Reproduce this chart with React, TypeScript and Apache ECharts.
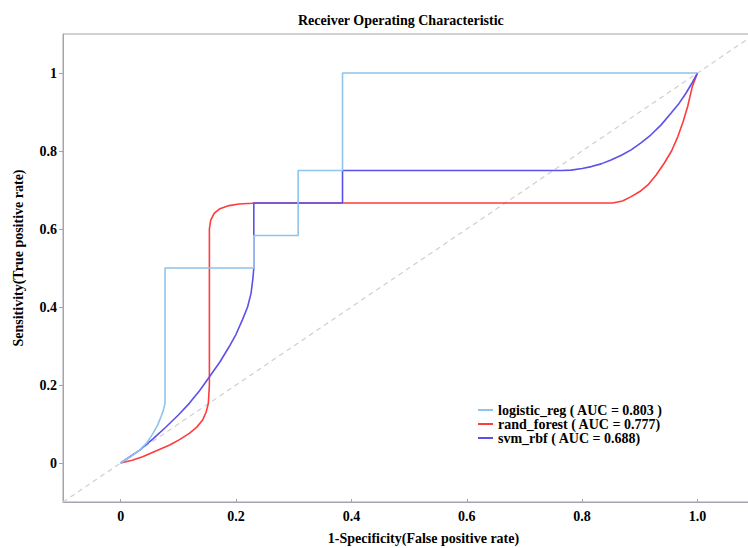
import React, { useEffect, useRef } from "react";
import * as echarts from "echarts";

const TITLE = "Receiver Operating Characteristic";
const X_NAME = "1-Specificity(False positive rate)";
const Y_NAME = "Sensitivity(True positive rate)";
const TICKS = [0, 0.2, 0.4, 0.6, 0.8, 1.0];

const SERIES_NAMES = [
  "logistic_reg ( AUC = 0.803 )",
  "rand_forest ( AUC = 0.777)",
  "svm_rbf ( AUC = 0.688)",
];

const logisticReg: number[][] = [
  [0, 0], [0.015, 0.014], [0.033, 0.033], [0.046, 0.053], [0.056, 0.076],
  [0.064, 0.097], [0.07, 0.119], [0.074, 0.135], [0.0769, 0.153],
  [0.0769, 0.5], [0.2308, 0.5], [0.2308, 0.5833], [0.3077, 0.5833],
  [0.3077, 0.75], [0.3846, 0.75], [0.3846, 1], [1, 1],
];

const randForest: number[][] = [
  [0, 0], [0.02, 0.007], [0.038, 0.016], [0.06, 0.03], [0.085, 0.046],
  [0.102, 0.06], [0.119, 0.076], [0.132, 0.092], [0.142, 0.11],
  [0.148, 0.13], [0.152, 0.153], [0.1538, 0.2], [0.1538, 0.6],
  [0.156, 0.622], [0.162, 0.64], [0.172, 0.652], [0.188, 0.66],
  [0.205, 0.664], [0.228, 0.666], [0.2308, 0.6667], [0.853, 0.6667],
  [0.87, 0.672], [0.885, 0.683], [0.9, 0.696], [0.914, 0.713],
  [0.928, 0.738], [0.942, 0.768], [0.955, 0.8], [0.966, 0.837],
  [0.975, 0.875], [0.983, 0.914], [0.991, 0.965], [1, 1],
];

const svmRbf: number[][] = [
  [0, 0], [0.033, 0.033], [0.056, 0.062], [0.079, 0.093], [0.1, 0.123],
  [0.119, 0.153], [0.137, 0.186], [0.154, 0.221], [0.172, 0.259],
  [0.188, 0.298], [0.2, 0.33], [0.211, 0.367], [0.22, 0.4],
  [0.226, 0.435], [0.229, 0.47], [0.2308, 0.5], [0.2308, 0.6667],
  [0.3846, 0.6667], [0.3846, 0.75], [0.765, 0.75], [0.781, 0.751],
  [0.8, 0.755], [0.816, 0.76], [0.833, 0.767], [0.85, 0.777],
  [0.868, 0.789], [0.885, 0.803], [0.902, 0.821], [0.919, 0.841],
  [0.937, 0.867], [0.954, 0.897], [0.968, 0.922], [0.98, 0.948],
  [0.99, 0.973], [1, 1],
];

const diagonal: number[][] = [
  [-0.1, -0.1],
  [1.15, 1.15],
];

const COLORS = {
  logistic: "#8fc4ec",
  forest: "#ff3b3b",
  svm: "#5b50ec",
  diag: "#cfcfcf",
  axis: "#a4a4ac",
};

const FONT = "'Liberation Serif', 'Times New Roman', serif";

export default function App() {
  const ref = useRef<HTMLDivElement>(null);

  useEffect(() => {
    document.body.style.margin = "0";
    if (!ref.current) return;
    const chart = echarts.init(ref.current, null, { renderer: "svg" });

    const lineSeries = (name: string, data: number[][], color: string, z: number) => ({
      name,
      type: "line",
      data,
      symbol: "none",
      showSymbol: false,
      smooth: false,
      z,
      lineStyle: { color, width: 1.6 },
      itemStyle: { color },
    });

    chart.setOption({
      animation: false,
      backgroundColor: "#ffffff",
      title: {
        text: TITLE,
        left: 293,
        top: 8,
        textStyle: { fontFamily: FONT, fontWeight: "bold", fontSize: 14, color: "#000" },
      },
      legend: {
        data: SERIES_NAMES,
        orient: "vertical",
        left: 473,
        top: 398,
        icon: "rect",
        itemWidth: 15,
        itemHeight: 2,
        itemGap: 0,
        textStyle: { fontFamily: FONT, fontWeight: "bold", fontSize: 14, color: "#000" },
      },
      grid: {
        left: 63,
        top: 34,
        width: 721,
        height: 468,
        containLabel: false,
        outerBoundsMode: "none",
        show: true,
        borderColor: COLORS.axis,
        borderWidth: 1,
        backgroundColor: "transparent",
      },
      xAxis: {
        type: "value",
        min: -0.1,
        max: 1.15,
        name: X_NAME,
        nameLocation: "middle",
        nameGap: 29,
        nameTextStyle: { fontFamily: FONT, fontWeight: "bold", fontSize: 14, color: "#000" },
        axisLine: { show: true, onZero: false, lineStyle: { color: COLORS.axis } },
        axisTick: { show: true, inside: true, length: 3, customValues: TICKS, lineStyle: { color: COLORS.axis } },
        axisLabel: {
          customValues: TICKS,
          margin: 7,
          formatter: (v: number) => (v === 0 ? "0" : v.toFixed(1)),
          fontFamily: FONT,
          fontWeight: "bold",
          fontSize: 14,
          color: "#000",
        },
        splitLine: { show: false },
      },
      yAxis: {
        type: "value",
        min: -0.1,
        max: 1.1,
        name: Y_NAME,
        nameLocation: "middle",
        nameGap: 38,
        nameTextStyle: {
          fontFamily: FONT,
          fontWeight: "bold",
          fontSize: 14,
          color: "#000",
          padding: [0, 0, 0, 20],
        },
        axisLine: { show: true, onZero: false, lineStyle: { color: COLORS.axis } },
        axisTick: { show: true, length: 4, customValues: TICKS, lineStyle: { color: COLORS.axis } },
        axisLabel: {
          customValues: TICKS,
          margin: 6,
          formatter: (v: number) => (v === 0 ? "0" : v === 1 ? "1" : v.toFixed(1)),
          fontFamily: FONT,
          fontWeight: "bold",
          fontSize: 14,
          color: "#000",
        },
        splitLine: { show: false },
      },
      series: [
        {
          name: "diagonal",
          type: "line",
          data: diagonal,
          symbol: "none",
          z: 1,
          silent: true,
          lineStyle: { color: COLORS.diag, width: 1.2, type: [5, 4] },
        },
        lineSeries(SERIES_NAMES[1], randForest, COLORS.forest, 2),
        lineSeries(SERIES_NAMES[2], svmRbf, COLORS.svm, 3),
        lineSeries(SERIES_NAMES[0], logisticReg, COLORS.logistic, 4),
      ],
    });

    return () => chart.dispose();
  }, []);

  return (
    <div
      ref={ref}
      style={{ width: 748, height: 548, position: "absolute", left: 0, top: 0 }}
    />
  );
}
